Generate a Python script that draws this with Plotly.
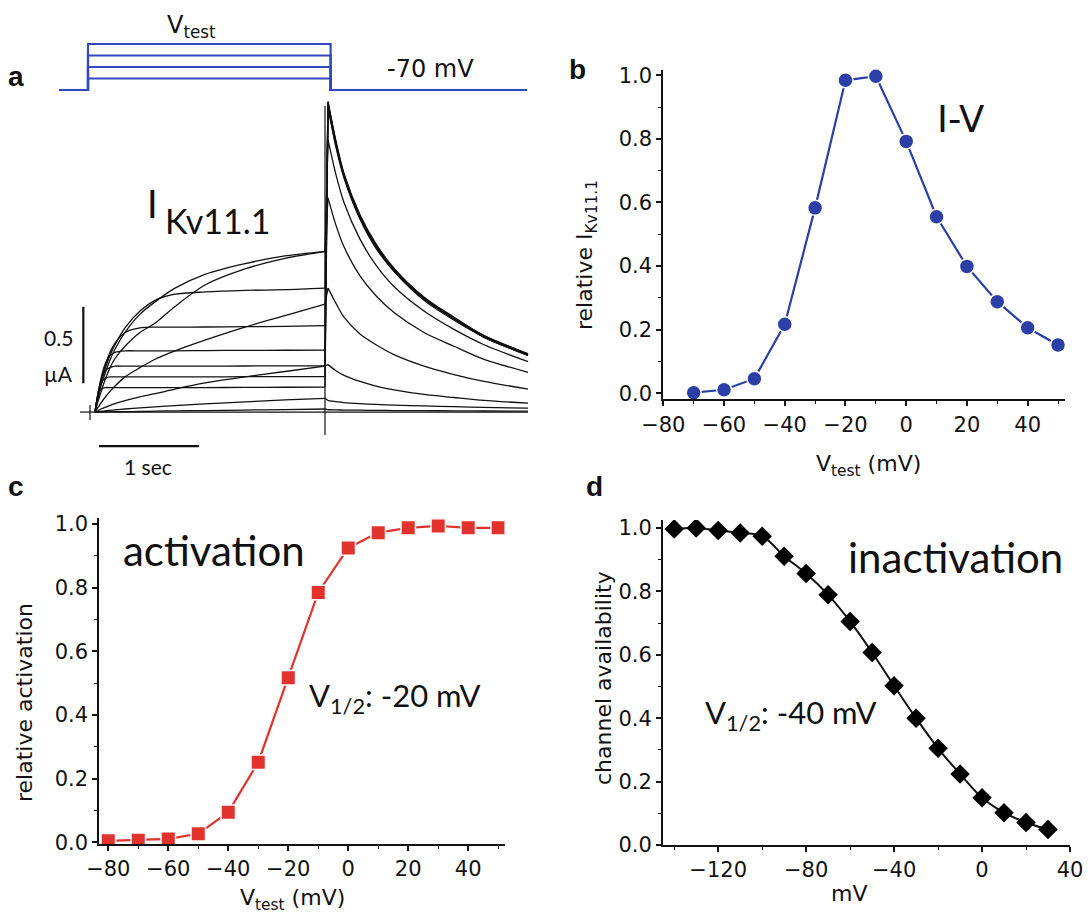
import plotly.graph_objects as go

# The page body keeps its default 8 px margin, so the figure is drawn 8 px in
# from the window corner; size it to fit the 1092x918 window exactly.
OFF = 8
W, H = 1092 - OFF, 918 - OFF


def fx(x):
    return (x - OFF) / W


def fy(y):
    return 1 - (y - OFF) / H


# ---------------- Panel a: two-electrode voltage clamp traces ----------------
# time (s) relative to start of the test pulse; current in µA
T_STEP = [0, 0.03, 0.06, 0.1, 0.15, 0.2, 0.3, 0.45, 0.6, 0.8, 1.1, 1.5, 1.9, 2.3]
T_TAIL = [2.33, 2.41, 2.49, 2.65, 2.81, 2.99, 3.29, 3.59, 3.89, 4.33]

step_m70 = [0, 0, 0, 0, 0, 0, 0, 0, 0, 0, 0, 0, 0, 0]
step_m60 = [0, 0, 0, 0.001, 0.001, 0.002, 0.003, 0.004, 0.006, 0.008, 0.010, 0.013, 0.016, 0.02]
step_m50 = [0, 0.003, 0.005, 0.008, 0.011, 0.014, 0.02, 0.027, 0.034, 0.042, 0.053, 0.067, 0.079, 0.09]
step_m40 = [0, 0.01, 0.02, 0.03, 0.044, 0.055, 0.075, 0.10, 0.12, 0.15, 0.19, 0.23, 0.265, 0.30]
step_m30 = [0, 0.03, 0.06, 0.095, 0.135, 0.17, 0.23, 0.29, 0.345, 0.40, 0.47, 0.555, 0.63, 0.705]
step_m20 = [0, 0.07, 0.13, 0.21, 0.29, 0.35, 0.43, 0.52, 0.58, 0.69, 0.83, 0.935, 1.005, 1.048]
step_m10 = [0, 0.09, 0.17, 0.25, 0.34, 0.41, 0.52, 0.64, 0.72, 0.81, 0.90, 0.97, 1.02, 1.05]
step_p00 = [0, 0.10, 0.19, 0.28, 0.37, 0.44, 0.55, 0.66, 0.73, 0.77, 0.785, 0.795, 0.80, 0.81]
step_p10 = [0, 0.11, 0.20, 0.30, 0.39, 0.45, 0.52, 0.55, 0.555, 0.555, 0.556, 0.558, 0.56, 0.565]
step_p20 = [0, 0.12, 0.22, 0.31, 0.37, 0.39, 0.40, 0.40, 0.40, 0.40, 0.402, 0.403, 0.404, 0.405]
step_p30 = [0, 0.12, 0.21, 0.27, 0.29, 0.30, 0.30, 0.30, 0.30, 0.30, 0.30, 0.301, 0.302, 0.302]
step_p40 = [0, 0.12, 0.19, 0.22, 0.23, 0.23, 0.23, 0.23, 0.23, 0.23, 0.23, 0.231, 0.232, 0.232]
step_p50 = [0, 0.11, 0.15, 0.16, 0.16, 0.16, 0.16, 0.16, 0.16, 0.16, 0.16, 0.161, 0.162, 0.163]

tail_m70 = [0, 0, 0, 0, 0, 0, 0, 0, 0, 0]
tail_m60 = [0.015, 0.014, 0.013, 0.012, 0.011, 0.01, 0.009, 0.008, 0.007, 0.006]
tail_m50 = [0.075, 0.068, 0.062, 0.055, 0.05, 0.045, 0.04, 0.035, 0.03, 0.026]
tail_m40 = [0.31, 0.27, 0.24, 0.20, 0.17, 0.145, 0.115, 0.095, 0.076, 0.058]
tail_m30 = [0.81, 0.71, 0.62, 0.51, 0.44, 0.375, 0.30, 0.245, 0.20, 0.15]
tail_m20 = [1.40, 1.22, 1.08, 0.89, 0.76, 0.65, 0.52, 0.43, 0.345, 0.26]
tail_m10 = [1.78, 1.55, 1.37, 1.13, 0.96, 0.82, 0.66, 0.54, 0.44, 0.33]
tail_p00 = [2.03, 1.77, 1.56, 1.29, 1.10, 0.94, 0.75, 0.62, 0.50, 0.38]
tail_p10 = [2.02, 1.76, 1.55, 1.28, 1.09, 0.93, 0.75, 0.61, 0.50, 0.38]
tail_p20 = [2.02, 1.76, 1.55, 1.28, 1.09, 0.93, 0.74, 0.61, 0.49, 0.375]
tail_p30 = [2.01, 1.75, 1.54, 1.27, 1.08, 0.93, 0.74, 0.61, 0.49, 0.375]
tail_p40 = [2.00, 1.74, 1.54, 1.27, 1.08, 0.92, 0.74, 0.61, 0.49, 0.37]
tail_p50 = [1.99, 1.73, 1.53, 1.26, 1.07, 0.92, 0.73, 0.60, 0.49, 0.37]

STEPS = [step_m70, step_m60, step_m50, step_m40, step_m30, step_m20, step_m10,
         step_p00, step_p10, step_p20, step_p30, step_p40, step_p50]
TAILS = [tail_m70, tail_m60, tail_m50, tail_m40, tail_m30, tail_m20, tail_m10,
         tail_p00, tail_p10, tail_p20, tail_p30, tail_p40, tail_p50]

# capacitive artefacts
ARTEFACT_T = [2.3, 2.3]
ARTEFACT_I = [-0.15, 2.0]
START_TICK_T = [-0.15, 0.03]
START_TICK_I = [0.046, -0.052]
START_TICK_AT_T = -0.05

# voltage protocol (s, mV)
PROTO_T = [-0.36, -0.07, 2.356, 4.32]
HOLD_MV = -70
PROTO_LEVELS_MV = [-40, -10, 20, 50]

# scale bars
BAR_T0, BAR_SEC, BAR_T_Y = 0.04, 1.0, -0.222
BAR_I_X, BAR_I0, BAR_UA = -0.117, 0.188, 0.5

# ---------------- Panel b: I-V ----------------
V_IV = [-70, -60, -50, -40, -30, -20, -10, 0, 10, 20, 30, 40, 50]
I_REL = [0.002, 0.011, 0.046, 0.217, 0.583, 0.984, 0.997, 0.792, 0.555, 0.399, 0.288, 0.206, 0.152]

# ---------------- Panel c: activation ----------------
V_ACT = [-80, -70, -60, -50, -40, -30, -20, -10, 0, 10, 20, 30, 40, 50]
ACT = [0.005, 0.007, 0.011, 0.027, 0.095, 0.252, 0.517, 0.785, 0.925, 0.973, 0.988, 0.994, 0.988, 0.988]

# ---------------- Panel d: inactivation ----------------
V_INACT = [-140, -130, -120, -110, -100, -90, -80, -70, -60, -50, -40, -30, -20, -10, 0, 10, 20, 30]
AVAIL = [0.997, 1.0, 0.992, 0.984, 0.974, 0.911, 0.856, 0.789, 0.705, 0.607, 0.502, 0.40, 0.305,
         0.224, 0.149, 0.102, 0.071, 0.049]

BLUE = '#2B3FA6'
PROTO_BLUE = '#3446C0'
RED = '#E1332B'
INK = '#111111'
SANS = 'DejaVu Sans, Verdana, Arial, sans-serif'
TICK_FONT = dict(family=SANS, size=21, color=INK)
CAL_FONT = 'Lato, Carlito, Calibri, sans-serif'

fig = go.Figure()

# voltage protocol
for lvl in PROTO_LEVELS_MV:
    fig.add_trace(go.Scatter(
        x=[PROTO_T[0], PROTO_T[1], PROTO_T[1], PROTO_T[2], PROTO_T[2], PROTO_T[3]],
        y=[HOLD_MV, HOLD_MV, lvl, lvl, HOLD_MV, HOLD_MV],
        mode='lines', line=dict(color=PROTO_BLUE, width=2.2), xaxis='x', yaxis='y2',
        hoverinfo='skip'))

# current traces
for st, tl in zip(STEPS, TAILS):
    fig.add_trace(go.Scatter(x=T_STEP, y=st, mode='lines',
                             line=dict(color=INK, width=1.3, shape='spline', smoothing=0.8),
                             xaxis='x', yaxis='y', hoverinfo='skip'))
    fig.add_trace(go.Scatter(x=[T_STEP[-1], T_TAIL[0]], y=[st[-1], tl[0]], mode='lines',
                             line=dict(color=INK, width=1.3), xaxis='x', yaxis='y', hoverinfo='skip'))
    fig.add_trace(go.Scatter(x=T_TAIL, y=tl, mode='lines',
                             line=dict(color=INK, width=1.3, shape='spline', smoothing=0.8),
                             xaxis='x', yaxis='y', hoverinfo='skip'))

fig.add_trace(go.Scatter(x=ARTEFACT_T, y=ARTEFACT_I, mode='lines', line=dict(color=INK, width=1.2),
                         xaxis='x', yaxis='y', hoverinfo='skip'))
fig.add_trace(go.Scatter(x=START_TICK_T, y=[0, 0], mode='lines', line=dict(color=INK, width=1.2),
                         xaxis='x', yaxis='y', hoverinfo='skip'))
fig.add_trace(go.Scatter(x=[START_TICK_AT_T, START_TICK_AT_T], y=START_TICK_I, mode='lines',
                         line=dict(color=INK, width=1.2), xaxis='x', yaxis='y', hoverinfo='skip'))
# scale bars
fig.add_trace(go.Scatter(x=[BAR_T0, BAR_T0 + BAR_SEC], y=[BAR_T_Y, BAR_T_Y], mode='lines',
                         line=dict(color=INK, width=2.2), xaxis='x', yaxis='y', hoverinfo='skip'))
fig.add_trace(go.Scatter(x=[BAR_I_X, BAR_I_X], y=[BAR_I0, BAR_I0 + BAR_UA], mode='lines',
                         line=dict(color=INK, width=2.2), xaxis='x', yaxis='y', hoverinfo='skip'))

# panel b
fig.add_trace(go.Scatter(x=V_IV, y=I_REL, mode='lines+markers', xaxis='x2', yaxis='y3',
                         line=dict(color=BLUE, width=2.2),
                         marker=dict(symbol='circle', size=15, color=BLUE, line=dict(color='white', width=1.5)),
                         hoverinfo='skip'))
# panel c
fig.add_trace(go.Scatter(x=V_ACT, y=ACT, mode='lines+markers', xaxis='x3', yaxis='y4',
                         line=dict(color=RED, width=2.2),
                         marker=dict(symbol='square', size=14.5, color=RED, line=dict(color='white', width=1.5)),
                         hoverinfo='skip'))
# panel d
fig.add_trace(go.Scatter(x=V_INACT, y=AVAIL, mode='lines', xaxis='x4', yaxis='y5',
                         line=dict(color=INK, width=2, shape='spline', smoothing=1.0), hoverinfo='skip'))
fig.add_trace(go.Scatter(x=V_INACT, y=AVAIL, mode='markers', xaxis='x4', yaxis='y5',
                         marker=dict(symbol='diamond', size=15, color='#000000'), hoverinfo='skip'))


def axis(**kw):
    d = dict(showline=True, linecolor=INK, linewidth=2, ticks='outside', ticklen=5, tickwidth=1.5,
             tickcolor=INK, showgrid=False, zeroline=False, tickfont=TICK_FONT, automargin=False,
             minor=dict(ticks='outside', ticklen=3, tickwidth=1.3, tickcolor=INK, showgrid=False))
    mi = kw.pop('minor_dtick', None)
    if mi is not None:
        d['minor']['dtick'] = mi
    d.update(kw)
    return d


fig.update_layout(
    template='none',
    width=W, height=H, margin=dict(l=0, r=0, t=0, b=0, pad=0, autoexpand=False), autosize=False,
    paper_bgcolor='white', plot_bgcolor='rgba(0,0,0,0)', showlegend=False,
    xaxis=dict(domain=[fx(40), fx(540)], range=[-0.55, 4.45], visible=False, anchor='y', automargin=False),
    yaxis=dict(domain=[fy(480), fy(95)], range=[-0.444, 2.072], visible=False, anchor='x', automargin=False),
    yaxis2=dict(domain=[fy(96), fy(30)], range=[-85.65, 86.5], visible=False, anchor='x', automargin=False),
    xaxis2=axis(domain=[fx(663.3), fx(1065)], range=[-80.001, 52.3], dtick=20, tick0=0, minor_dtick=10,
                anchor='y3'),
    yaxis3=axis(domain=[fy(399.3), fy(69.5)], range=[-0.0189, 1.018], dtick=0.2, tick0=0,
                tickformat='.1f', minor_dtick=0.1, anchor='x2'),
    xaxis3=axis(domain=[fx(99.3), fx(504.5)], range=[-83, 52.1], dtick=20, tick0=0, minor_dtick=10,
                anchor='y4'),
    yaxis4=axis(domain=[fy(844), fy(518.3)], range=[-0.005, 1.018], dtick=0.2, tick0=0,
                tickformat='.1f', minor_dtick=0.1, anchor='x3'),
    xaxis4=axis(domain=[fx(663), fx(1070)], range=[-145.1, 40.001], dtick=40, tick0=0, minor_dtick=20,
                anchor='y5'),
    yaxis5=axis(domain=[fy(845), fy(520)], range=[0, 1.025], dtick=0.2, tick0=0,
                tickformat='.1f', minor_dtick=0.1, anchor='x4'),
)


def ann(text, x, y, size, family=SANS, xanchor='center', yanchor='middle', angle=0, bold=False):
    fig.add_annotation(text=f'<b>{text}</b>' if bold else text, x=fx(x), y=fy(y), xref='paper', yref='paper',
                       showarrow=False, xanchor=xanchor, yanchor=yanchor, textangle=angle,
                       font=dict(family=family, size=size, color=INK))


# panel letters
ann('a', 16, 77, 28, family='Liberation Sans, Arial', bold=True)
ann('b', 577, 70, 28, family='Liberation Sans, Arial', bold=True)
ann('c', 16, 486, 28, family='Liberation Sans, Arial', bold=True)
ann('d', 594, 486, 28, family='Liberation Sans, Arial', bold=True)

# panel a texts
ann('V<sub>test</sub>', 191, 26, 24)
ann('-70 mV', 430, 69, 24)
ann('I', 152, 203, 38, family=CAL_FONT)
ann('Kv11.1', 163, 220, 34, family=CAL_FONT, xanchor='left')
ann('0.5', 58, 337, 21, family=CAL_FONT)
ann('\u00b5A', 58, 373, 21, family=CAL_FONT)
ann('1 sec', 148, 466, 21, family=CAL_FONT)

# panel b texts
ann('I-V', 960, 119, 37)
ann('relative I<sub>Kv11.1</sub>', 587, 255, 22, angle=-90)
ann('V<sub>test</sub> (mV)', 868, 465, 22)

# panel c texts
ann('activation', 214, 550, 42, family=CAL_FONT)
ann('V<sub>1/2</sub>: -20 mV', 395, 697, 31, family=CAL_FONT)
ann('relative activation', 24, 703, 22, angle=-90)
ann('V<sub>test</sub> (mV)', 292, 899, 22)

# panel d texts
ann('inactivation', 955, 557, 42, family=CAL_FONT)
ann('V<sub>1/2</sub>: -40 mV', 791, 714, 31, family=CAL_FONT)
ann('channel availability', 603, 678, 22, angle=-90)
ann('mV', 849, 893, 22)

fig.write_html('out.html')
